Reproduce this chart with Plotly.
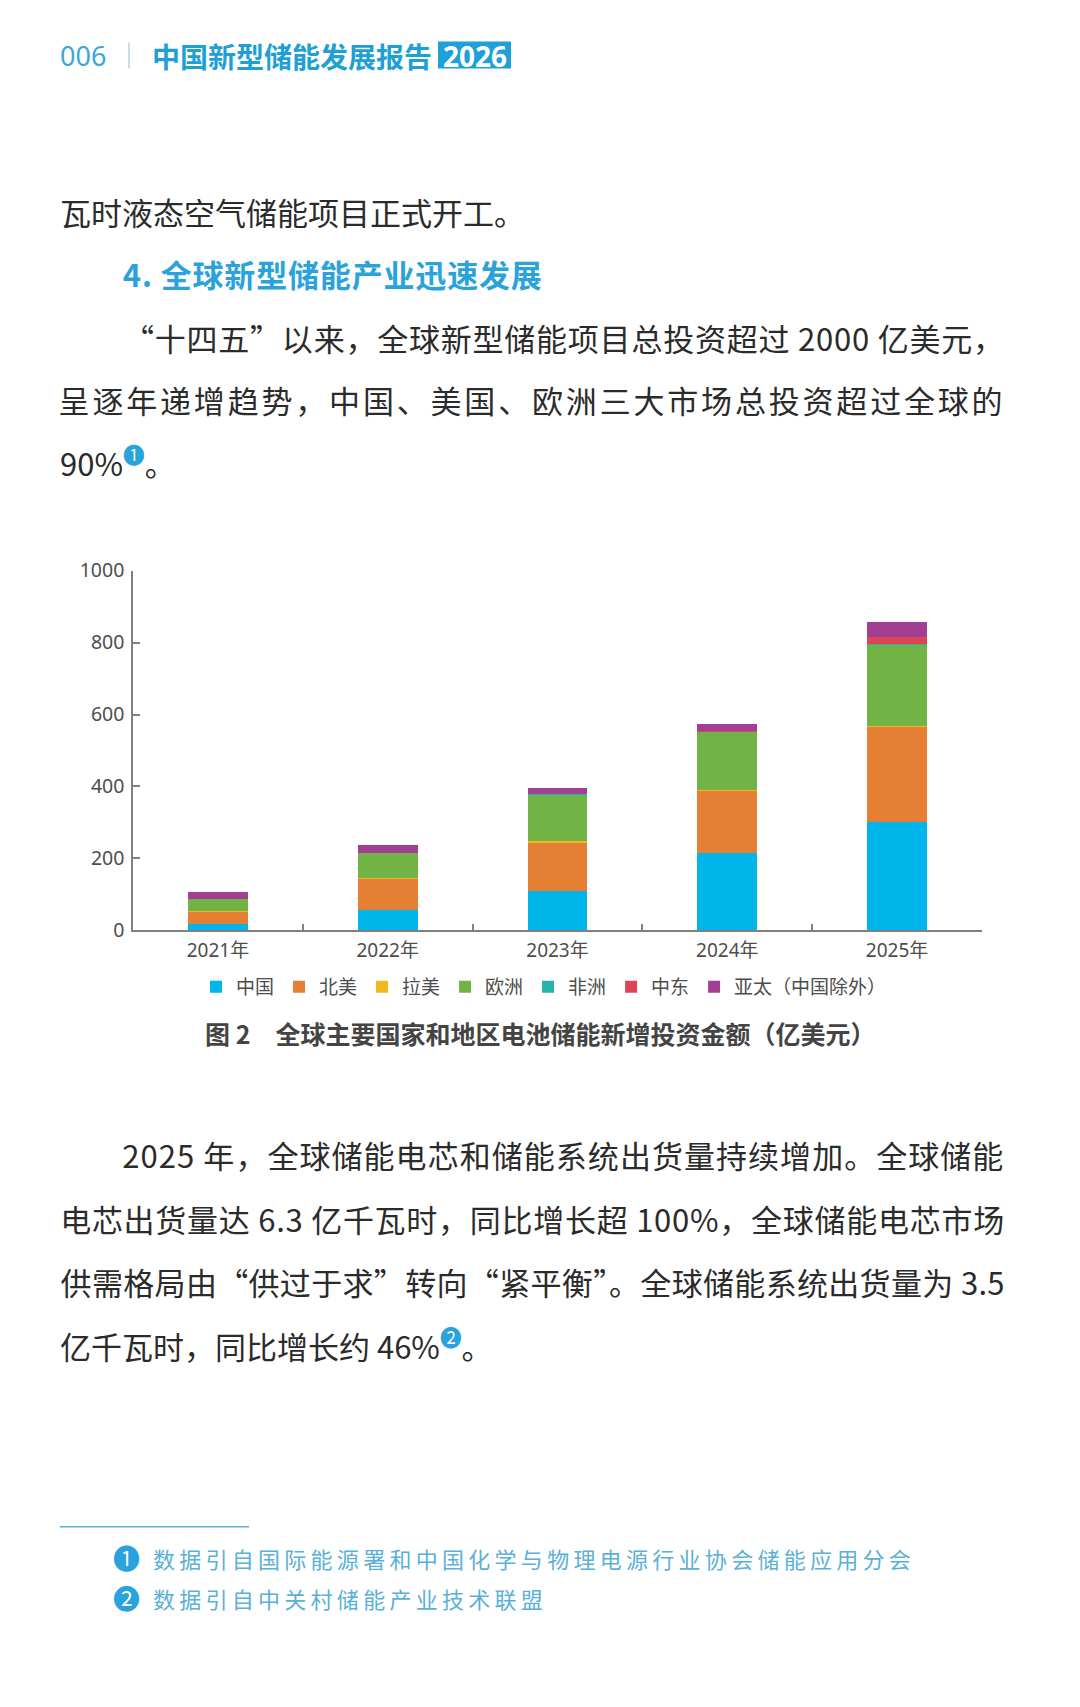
import json
import plotly.graph_objects as go

W, H = 1080, 1707

years = ["2021年", "2022年", "2023年", "2024年", "2025年"]
regions = ["中国", "北美", "拉美", "欧洲", "非洲", "中东", "亚太（中国除外）"]
china = [19, 57, 110, 214, 300]
north_america = [34, 89, 136, 175, 267]
latin_america = [0.5, 1, 2, 2, 2]
europe = [33, 68, 131, 162, 226]
africa = [0, 0, 1, 1, 2]
middle_east = [0, 0, 0, 1, 18]
asia_pacific = [19, 22, 17, 20, 41]
series = [china, north_america, latin_america, europe, africa, middle_east, asia_pacific]
colors = ["#00b5e9", "#e47f33", "#efb820", "#71b345", "#27b2ac", "#dd4555", "#a13f95"]
y_ticks = [0, 200, 400, 600, 800, 1000]

header_num = "006"
header_title = "中国新型储能发展报告"
header_year = "2026"
body_top = "瓦时液态空气储能项目正式开工。"
heading = "4. 全球新型储能产业迅速发展"
para1 = [
    "“十四五”以来，全球新型储能项目总投资超过 2000 亿美元，",
    "呈逐年递增趋势，中国、美国、欧洲三大市场总投资超过全球的",
    "90%<sup><span style='color:#2aa3dc'>❶</span></sup>。",
]
caption = "图 2　全球主要国家和地区电池储能新增投资金额（亿美元）"
para2 = [
    "2025 年，全球储能电芯和储能系统出货量持续增加。全球储能",
    "电芯出货量达 6.3 亿千瓦时，同比增长超 100%，全球储能电芯市场",
    "供需格局由“供过于求”转向“紧平衡”。全球储能系统出货量为 3.5",
    "亿千瓦时，同比增长约 46%<sup><span style='color:#2aa3dc'>❷</span></sup>。",
]
footnotes = ["数据引自国际能源署和中国化学与物理电源行业协会储能应用分会", "数据引自中关村储能产业技术联盟"]
foot_marks = ["❶", "❷"]


def px(x):
    return x / W


def py(y):
    # calibrated page position (the photographed page is slightly rescaled vertically)
    return 1 - ((y - 13.4) / 0.986) / H


CJK = "Noto Sans CJK SC"
fig = go.Figure()
for name, vals, c in zip(regions, series, colors):
    fig.add_trace(go.Bar(x=years, y=vals, name=name, marker=dict(color=c, line=dict(width=0))))

fig.update_layout(
    width=W, height=H, margin=dict(l=0, r=0, t=0, b=0),
    paper_bgcolor="white", plot_bgcolor="white",
    barmode="stack", bargap=0.647,
    font=dict(family="Noto Sans, " + CJK, color="#4d4d4d"),
    showlegend=True,
    legend=dict(orientation="h", x=px(196), y=py(988), xanchor="left", yanchor="middle",
                font=dict(size=19, family=CJK, color="#4d4d4d"),
                traceorder="normal", itemclick=False, itemdoubleclick=False),
    xaxis=dict(domain=[px(133), px(982)], showline=True, linecolor="#808080", linewidth=1.5,
               ticks="inside", ticklen=7, tickcolor="#808080", tickwidth=1.5, tickson="boundaries",
               tickfont=dict(size=19, color="#4d4d4d"), ticklabelstandoff=2, showgrid=False,
               fixedrange=True),
    yaxis=dict(domain=[py(931.5), py(571)], range=[0, 1000], tickvals=y_ticks, showline=True,
               linecolor="#808080", linewidth=1.5, ticks="inside", ticklen=7, tickcolor="#808080",
               tickwidth=1.5, tickfont=dict(size=19.5, color="#4d4d4d"), ticklabelstandoff=3,
               showgrid=False, zeroline=False, fixedrange=True),
)

ann = []
justify = {}


def text(x, y, t, size, color, anchor="left", weight="normal", family=CJK, span=None):
    if span is not None:
        left, right = span
        x = (left + right) / 2
        anchor = "center"
        justify[t] = right - left
    ann.append(dict(x=px(x), y=py(y), xref="paper", yref="paper", text=t, showarrow=False,
                    xanchor=anchor, yanchor="middle",
                    font=dict(size=size, color=color, family=family, weight=weight)))


# header
text(58, 55, header_num, 27, "#3aa8dc", family="Noto Sans")
text(150, 55, header_title, 28, "#1e9fd6", weight="bold")
text(474.5, 55, header_year, 28, "white", anchor="center", weight="bold", family="Noto Sans")

body_c = "#2b2b2b"
text(58, 211, body_top, 31, body_c)
text(0, 273, heading, 31, "#2aa3dc", weight="bold", span=(123, 542))
text(0, 337, para1[0], 31, body_c, span=(123, 1004))
text(0, 400, para1[1], 31, body_c, span=(60, 1004))
text(58, 462, para1[2], 31, body_c)

text(203, 1034, caption, 25, "#444444", weight="bold")

text(0, 1156, para2[0], 31, body_c, span=(123, 1004))
text(0, 1220, para2[1], 31, body_c, span=(60, 1004))
text(0, 1283, para2[2], 31, body_c, span=(60, 1004))
text(58, 1346, para2[3], 31, body_c)

foot_spans = [(155, 913), (155, 545)]
for i, (m, f) in enumerate(zip(foot_marks, footnotes)):
    yy = 1560 + 40 * i
    text(126, yy, m, 27, "#2aa3dc", anchor="center")
    text(0, yy, f, 22, "#5ab0d8", span=foot_spans[i])

fig.update_layout(annotations=ann, shapes=[
    dict(type="rect", xref="paper", yref="paper", x0=px(438), x1=px(511), y0=py(68), y1=py(41),
         fillcolor="#1ea0d8", line=dict(width=0), layer="below"),
    dict(type="line", xref="paper", yref="paper", x0=px(129), x1=px(129), y0=py(42), y1=py(68),
         line=dict(color="#9cc9e0", width=1.2)),
    dict(type="line", xref="paper", yref="paper", x0=px(60), x1=px(249), y0=py(1529), y1=py(1529),
         line=dict(color="#5ab0d8", width=1.5)),
])

js = """
document.body.style.margin = '0';
try {
  var targets = %s;
  var norm = {};
  Object.keys(targets).forEach(function(k){ norm[k.replace(/\\s/g, '')] = targets[k]; });
  document.querySelectorAll('text.annotation-text').forEach(function(el){
    var t = el.textContent;
    var key = t.replace(/\\s/g, '');
    if (norm.hasOwnProperty(key)) {
      var nat = el.getComputedTextLength();
      var n = t.length;
      if (n > 1) {
        var ls = (norm[key] - nat) / (n - 1);
        el.style.letterSpacing = ls + 'px';
      }
    }
  });
} catch (e) {}
""" % json.dumps(justify, ensure_ascii=False)

fig.write_html("out.html", config={"displayModeBar": False}, post_script=js)
